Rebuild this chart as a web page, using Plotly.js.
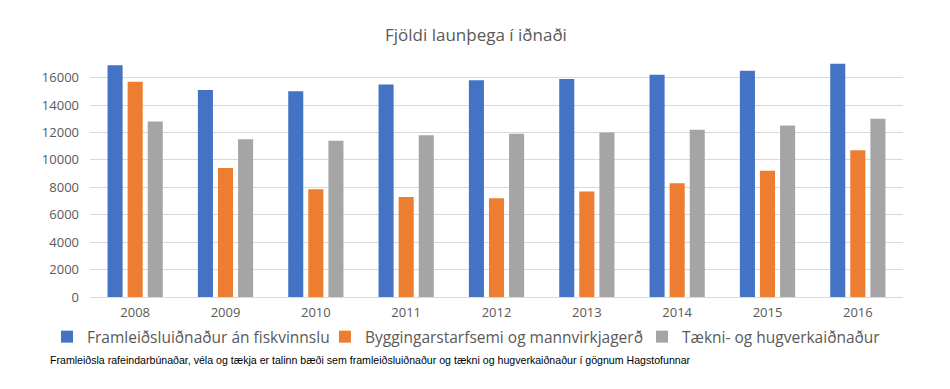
<!DOCTYPE html>
<html><head><meta charset="utf-8">
<script src="https://cdn.plot.ly/plotly-3.0.1.min.js"></script>
<style>body{margin:0;background:#fff}#c{width:950px;height:389px}</style>
</head><body><div id="c"></div>
<script>
const years = ['2008','2009','2010','2011','2012','2013','2014','2015','2016'];
const framleidsla = [16900, 15100, 15000, 15500, 15800, 15900, 16200, 16500, 17000];
const bygging = [15700, 9400, 7850, 7300, 7200, 7700, 8300, 9200, 10700];
const taekni = [12800, 11500, 11400, 11800, 11900, 12000, 12200, 12500, 13000];
const seriesNames = ['Framleiðsluiðnaður án fiskvinnslu', 'Byggingarstarfsemi og mannvirkjagerð', 'Tækni- og hugverkaiðnaður'];
const yTicks = [0, 2000, 4000, 6000, 8000, 10000, 12000, 14000, 16000];
const titleText = 'Fjöldi launþega í iðnaði';
const footnote = 'Framleiðsla rafeindarbúnaðar, véla og tækja er talinn bæði sem framleiðsluiðnaður og tækni og hugverkaiðnaður í gögnum Hagstofunnar';

const colors = ['#4472C4', '#ED7D31', '#A5A5A5'];
const legendIds = ['legend', 'legend2', 'legend3'];
const data = [framleidsla, bygging, taekni].map((v, i) => ({
  type: 'bar', x: years, y: v, name: seriesNames[i],
  marker: {color: colors[i]}, legend: legendIds[i], hoverinfo: 'x+y'
}));

const legFont = {size: 15.5, color: '#595959', family: 'Open Sans, sans-serif'};
const legBase = {orientation: 'h', y: -0.167, yanchor: 'middle', xanchor: 'left',
                 font: legFont, itemwidth: 30, bgcolor: 'rgba(0,0,0,0)'};

const layout = {
  width: 950, height: 389,
  margin: {l: 90, r: 47, t: 57, b: 92, autoexpand: false},
  paper_bgcolor: '#fff', plot_bgcolor: '#fff',
  font: {family: 'Open Sans, sans-serif', color: '#595959', size: 13},
  title: {text: titleText, x: 0.501, xanchor: 'center', y: 0.91, yanchor: 'middle',
          font: {size: 17, color: '#595959', family: 'Open Sans, sans-serif'}},
  barmode: 'group', bargap: 0.333, bargroupgap: 0.25,
  xaxis: {type: 'category', showgrid: false, showline: true, linecolor: '#D9D9D9', linewidth: 1,
          ticks: '', ticklabelstandoff: 3, tickfont: {size: 13, color: '#595959'}, fixedrange: true},
  yaxis: {range: [0, 17500], tickvals: yTicks, ticktext: yTicks.map(String),
          showgrid: true, gridcolor: '#D9D9D9', gridwidth: 1, zeroline: false, showline: false,
          ticks: '', ticklabelstandoff: 10, tickfont: {size: 13, color: '#595959'}, fixedrange: true},
  showlegend: true,
  legend: Object.assign({}, legBase, {x: -0.0529}),
  legend2: Object.assign({}, legBase, {x: 0.289}),
  legend3: Object.assign({}, legBase, {x: 0.679}),
  annotations: [{text: footnote, xref: 'paper', yref: 'paper', x: (48 - 90) / 813, xanchor: 'left',
                 y: (297 - 360) / 240, yanchor: 'middle', showarrow: false,
                 font: {size: 10.6, color: '#000', family: 'Liberation Sans Narrow, sans-serif'}}]
};
Plotly.newPlot('c', data, layout, {displayModeBar: false, staticPlot: true});
</script></body></html>
